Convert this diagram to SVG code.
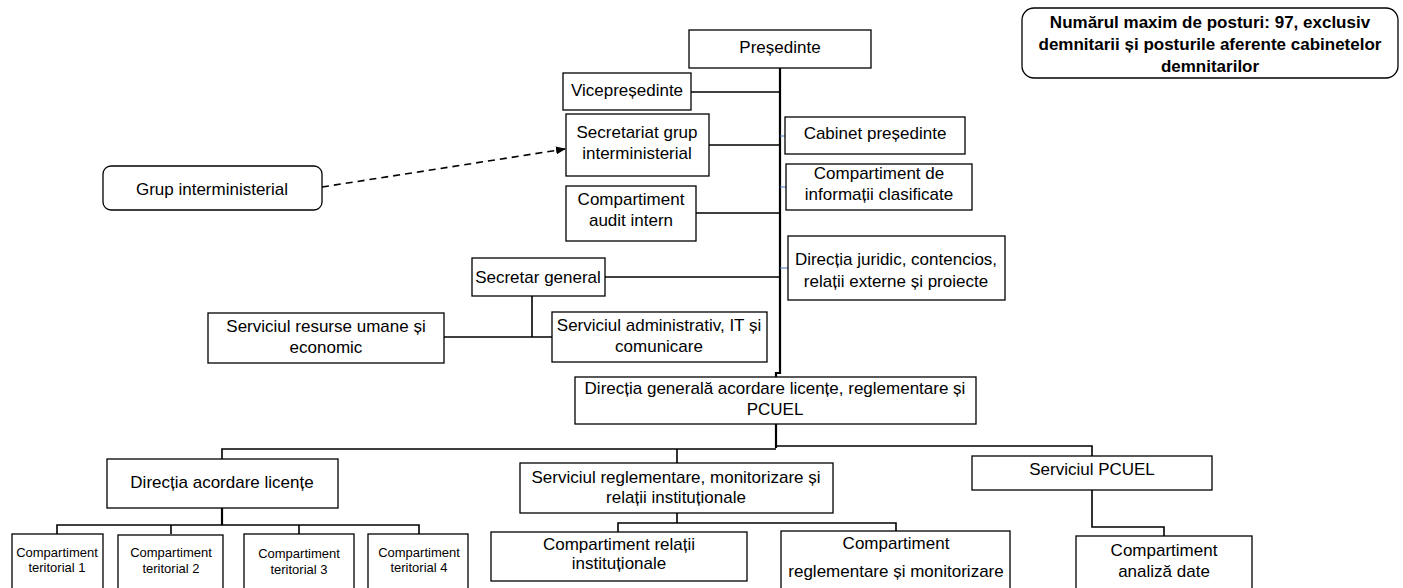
<svg xmlns="http://www.w3.org/2000/svg" width="1403" height="588" viewBox="0 0 1403 588">
<style>
.b{fill:#fff;stroke:#000;stroke-width:1.3}
.t{font-family:"Liberation Sans",Arial,sans-serif;font-size:17px;fill:#000;text-anchor:middle}
.s{font-size:13px}
.bold{font-weight:bold;font-size:17px}
.c{fill:none;stroke:#000;stroke-width:1.6}
.sp{fill:none;stroke:#000;stroke-width:2.2}
.bl{fill:none;stroke:#4472c4;stroke-width:1}
</style>
<defs>
<marker id="ah" markerWidth="10" markerHeight="8" refX="9" refY="4" orient="auto" markerUnits="userSpaceOnUse">
<path d="M0,0 L10,4 L0,8 Z" fill="#000"/>
</marker>
</defs>
<rect width="1403" height="588" fill="#fff"/>
<g id="connectors">
<polyline class="sp" points="780,68 780,373 776,373 776,377"/>
<line class="c" x1="691" y1="92" x2="780" y2="92"/>
<line class="c" x1="709" y1="145" x2="780" y2="145"/>
<line class="c" x1="696" y1="213" x2="780" y2="213"/>
<line class="c" x1="605" y1="277" x2="780" y2="277"/>
<line class="bl" x1="780" y1="136" x2="785" y2="136"/>
<line class="bl" x1="780" y1="187" x2="786" y2="187"/>
<line class="bl" x1="780" y1="268" x2="788" y2="268"/>
<line class="c" x1="532" y1="296" x2="532" y2="337"/>
<line class="c" x1="444" y1="337" x2="552" y2="337"/>
<line class="c" x1="322" y1="187" x2="565" y2="149" stroke-dasharray="7,5" marker-end="url(#ah)"/>
<polyline class="sp" points="776,424 776,448"/>
<polyline class="c" points="222,459 222,449 776,449"/>
<polyline class="c" points="776,446 1092,446 1092,456"/>
<line class="c" x1="677" y1="449" x2="677" y2="463"/>
<line class="sp" x1="222" y1="508" x2="222" y2="525"/>
<polyline class="c" points="57,534 57,525 419,525 419,534"/>
<line class="c" x1="171" y1="525" x2="171" y2="534"/>
<line class="c" x1="299" y1="525" x2="299" y2="534"/>
<line class="c" x1="677" y1="513" x2="677" y2="523"/>
<polyline class="c" points="618,532 618,523 896,523 896,531"/>
<polyline class="c" points="1092,490 1092,527 1164,527 1164,536"/>
</g>
<g id="n-note"><rect class="b" x="1022" y="8" width="376" height="70" rx="12"/>
<text class="t bold" x="1210" y="28">Numărul maxim de posturi: 97, exclusiv</text>
<text class="t bold" x="1210" y="50">demnitarii și posturile aferente cabinetelor</text>
<text class="t bold" x="1210" y="72">demnitarilor</text></g>
<g id="n-presedinte"><rect class="b" x="689" y="30" width="182" height="38"/><text class="t" x="780" y="53">Președinte</text></g>
<g id="n-vice"><rect class="b" x="563" y="73" width="128" height="37"/><text class="t" x="627" y="96">Vicepreședinte</text></g>
<g id="n-secretariat"><rect class="b" x="566" y="114" width="143" height="62"/><text class="t" x="637" y="138">Secretariat grup</text><text class="t" x="637" y="159">interministerial</text></g>
<g id="n-audit"><rect class="b" x="566" y="186" width="130" height="55"/><text class="t" x="631" y="205">Compartiment</text><text class="t" x="631" y="226">audit intern</text></g>
<g id="n-grup"><rect class="b" x="103" y="166" width="219" height="44" rx="8"/><text class="t" x="212" y="195">Grup interministerial</text></g>
<g id="n-cabinet"><rect class="b" x="785" y="117" width="180" height="37"/><text class="t" x="875" y="139">Cabinet președinte</text></g>
<g id="n-info"><rect class="b" x="786" y="164" width="186" height="46"/><text class="t" x="879" y="179">Compartiment de</text><text class="t" x="879" y="200">informații clasificate</text></g>
<g id="n-juridic"><rect class="b" x="788" y="236" width="217" height="64"/><text class="t" x="896" y="265">Direcția juridic, contencios,</text><text class="t" x="896" y="287">relații externe și proiecte</text></g>
<g id="n-secgen"><rect class="b" x="472" y="258" width="133" height="38"/><text class="t" x="538" y="283">Secretar general</text></g>
<g id="n-resurse"><rect class="b" x="208" y="313" width="236" height="50"/><text class="t" x="326" y="332">Serviciul resurse umane și</text><text class="t" x="326" y="353">economic</text></g>
<g id="n-admin"><rect class="b" x="552" y="312" width="215" height="50"/><text class="t" x="659" y="331">Serviciul administrativ, IT și</text><text class="t" x="659" y="352">comunicare</text></g>
<g id="n-dg"><rect class="b" x="575" y="377" width="401" height="47"/><text class="t" x="775" y="394">Direcția generală acordare licențe, reglementare și</text><text class="t" x="775" y="415">PCUEL</text></g>
<g id="n-dal"><rect class="b" x="107" y="459" width="231" height="49"/><text class="t" x="222" y="488">Direcția acordare licențe</text></g>
<g id="n-t1"><rect class="b" x="12" y="534" width="91" height="60"/><text class="t s" x="57" y="557">Compartiment</text><text class="t s" x="57" y="572">teritorial 1</text></g>
<g id="n-t2"><rect class="b" x="118" y="535" width="105" height="60"/><text class="t s" x="171" y="557">Compartiment</text><text class="t s" x="171" y="573">teritorial 2</text></g>
<g id="n-t3"><rect class="b" x="244" y="534" width="110" height="60"/><text class="t s" x="299" y="558">Compartiment</text><text class="t s" x="299" y="574">teritorial 3</text></g>
<g id="n-t4"><rect class="b" x="368" y="534" width="100" height="60"/><text class="t s" x="419" y="557">Compartiment</text><text class="t s" x="419" y="572">teritorial 4</text></g>
<g id="n-srm"><rect class="b" x="520" y="463" width="313" height="50"/><text class="t" x="676" y="483">Serviciul reglementare, monitorizare și</text><text class="t" x="676" y="503">relații instituționale</text></g>
<g id="n-cri"><rect class="b" x="491" y="532" width="256" height="49"/><text class="t" x="619" y="550">Compartiment relații</text><text class="t" x="619" y="569">instituționale</text></g>
<g id="n-crm"><rect class="b" x="781" y="531" width="229" height="62"/><text class="t" x="896" y="549">Compartiment</text><text class="t" x="896" y="577">reglementare și monitorizare</text></g>
<g id="n-pcuel"><rect class="b" x="972" y="456" width="240" height="34"/><text class="t" x="1092" y="475">Serviciul PCUEL</text></g>
<g id="n-analiza"><rect class="b" x="1076" y="536" width="176" height="60"/><text class="t" x="1164" y="556">Compartiment</text><text class="t" x="1164" y="577">analiză date</text></g>
</svg>
